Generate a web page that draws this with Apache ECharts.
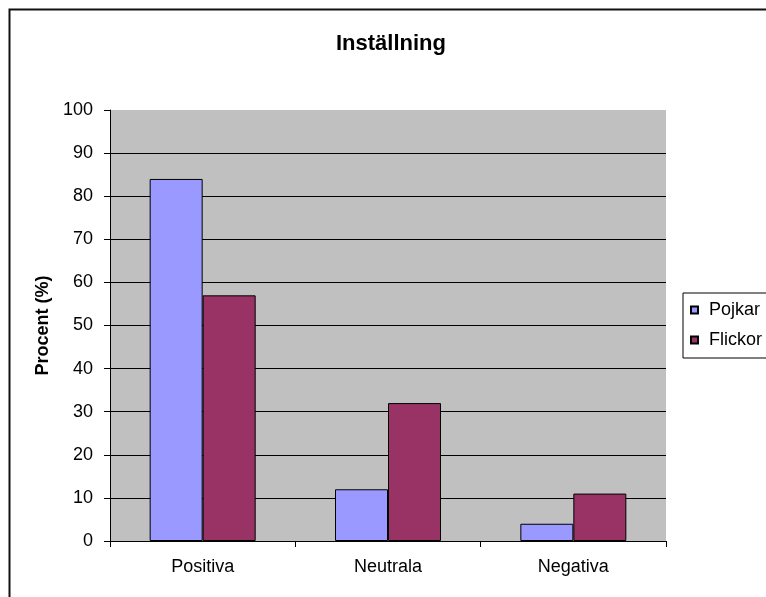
<!DOCTYPE html>
<html>
<head>
<meta charset="utf-8">
<script src="https://cdn.jsdelivr.net/npm/echarts@6/dist/echarts.min.js"></script>
<style>
  html, body { margin: 0; padding: 0; background: #fff; }
  #chart { width: 766px; height: 597px; }
</style>
</head>
<body>
<div id="chart"></div>
<script>
// Attitude survey: share of boys and girls per answer group
const categories = ['Positiva', 'Neutrala', 'Negativa'];
const pojkar = [84, 12, 4];
const flickor = [57, 32, 11];
const seriesNames = ['Pojkar', 'Flickor'];
const yTicks = { min: 0, max: 100, interval: 10 };

const FONT = '"Liberation Sans", Arial, sans-serif';

const chart = echarts.init(document.getElementById('chart'), null, { renderer: 'canvas' });

chart.setOption({
  animation: false,
  backgroundColor: '#ffffff',
  textStyle: { fontFamily: FONT },
  graphic: [{
    type: 'rect',
    shape: { x: 9.5, y: 9.5, width: 900, height: 800 },
    style: { fill: 'none', stroke: '#111', lineWidth: 2 },
    silent: true,
    z: -1
  }],
  title: {
    text: 'Inställning',
    left: 336,
    top: 33,
    padding: 0,
    textStyle: { fontFamily: FONT, fontSize: 22, fontWeight: 'bold', color: '#000' }
  },
  legend: {
    orient: 'vertical',
    left: 683,
    top: 293,
    padding: [8, 7, 9, 7],
    itemGap: 12,
    itemWidth: 7,
    itemHeight: 7,
    icon: 'rect',
    backgroundColor: '#fff',
    borderColor: '#000',
    borderWidth: 1,
    borderRadius: 0,
    data: seriesNames,
    textStyle: { fontFamily: FONT, fontSize: 18, color: '#000', padding: [0, 0, 0, 6] }
  },
  grid: {
    left: 110,
    right: 100,
    top: 110,
    bottom: 56,
    show: true,
    backgroundColor: '#C0C0C0',
    borderWidth: 0,
    containLabel: false
  },
  xAxis: {
    type: 'category',
    data: categories,
    axisLine: { show: true, lineStyle: { color: '#000', width: 1 } },
    axisTick: { show: true, alignWithLabel: false, length: 6, lineStyle: { color: '#000' } },
    axisLabel: { fontFamily: FONT, fontSize: 18, color: '#000', margin: 17 },
    splitLine: { show: false }
  },
  yAxis: {
    type: 'value',
    min: yTicks.min,
    max: yTicks.max,
    interval: yTicks.interval,
    name: 'Procent (%)',
    nameLocation: 'middle',
    nameRotate: 90,
    nameGap: 54,
    nameTextStyle: { fontFamily: FONT, fontSize: 18, fontWeight: 'bold', color: '#000' },
    axisLine: { show: true, lineStyle: { color: '#000', width: 1 } },
    axisTick: { show: true, length: 6, lineStyle: { color: '#000' } },
    axisLabel: { fontFamily: FONT, fontSize: 18, color: '#000', margin: 17 },
    splitLine: { show: true, showMinLine: false, showMaxLine: false, lineStyle: { color: '#000', width: 1 } }
  },
  series: [
    {
      name: seriesNames[0],
      type: 'bar',
      data: pojkar,
      barWidth: 53,
      barGap: '0%',
      itemStyle: { color: '#9999FF', borderColor: '#000', borderWidth: 1 }
    },
    {
      name: seriesNames[1],
      type: 'bar',
      data: flickor,
      barWidth: 53,
      barGap: '0%',
      itemStyle: { color: '#993366', borderColor: '#000', borderWidth: 1 }
    }
  ]
});
</script>
</body>
</html>
